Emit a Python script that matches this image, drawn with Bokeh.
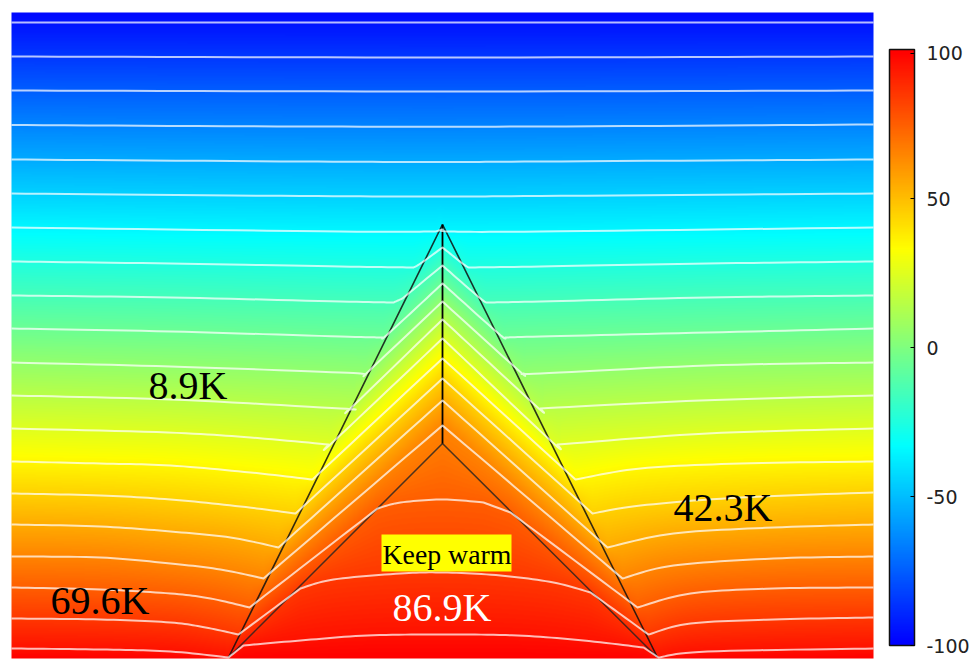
import numpy as np
from bokeh.plotting import figure
from bokeh.models import Range1d, LinearColorMapper, ColorBar, FixedTicker
from bokeh.core.properties import value
from bokeh.embed import file_html
from bokeh.resources import INLINE

# Contour traces: (x, y), one list per temperature level
c_m95 = [(11, 22), (442, 22), (873, 22)]
c_m85 = [(11, 56), (442, 57), (873, 56)]
c_m75 = [(11, 90), (442, 91), (873, 90)]
c_m65 = [(11, 124.5), (300, 126), (540, 126), (873, 124)]
c_m55 = [(11, 159), (300, 161), (442, 161.5), (540, 161), (873, 159)]
c_m45 = [(11, 193), (300, 195.5), (442, 196), (540, 195.5), (873, 193)]
c_m35 = [(11, 227), (340, 231), (435, 231), (442, 229), (450, 231), (540, 231), (873, 227)]
c_m25 = [(11, 261), (170, 263), (340, 266), (413, 267), (420, 263), (442, 247), (462, 263), (468, 267), (540, 266), (707, 263), (873, 261)]
c_m15 = [(11, 295), (170, 297), (340, 301), (393, 302), (402, 298), (442, 265), (480, 298), (487, 302), (540, 301), (707, 297), (873, 295)]
c_m05 = [(11, 328), (170, 331), (340, 336), (382, 337), (388, 333), (442, 283), (498, 333), (505, 337), (540, 336), (707, 332), (873, 328)]
c_p05 = [(11, 362), (170, 366), (340, 372), (365, 374), (370, 369), (442, 301), (517, 369), (523, 373), (540, 373), (707, 365), (873, 362)]
c_p15 = [(11, 395), (170, 399), (340, 408), (348, 409), (353, 405), (442, 319), (535, 405), (540, 408), (700, 400), (873, 395)]
c_p25 = [(11, 428), (167, 432), (250, 437), (328, 444), (333, 441), (442, 338), (550, 440), (557, 444), (707, 433), (873, 428)]
c_p35 = [(11, 461), (100, 463), (170, 465), (250, 472), (312, 479), (442, 358), (575, 479), (640, 468), (740, 463), (873, 461)]
c_p45 = [(11, 493), (100, 495), (170, 499), (240, 506), (295, 513), (442, 378), (592, 513), (640, 505), (740, 497), (873, 492)]
c_p55 = [(11, 524), (100, 526), (170, 531), (230, 537), (278, 547), (442, 400), (607, 547), (673, 533), (773, 527), (873, 524)]
c_p65 = [(11, 556), (100, 557), (170, 563), (220, 569), (263, 578), (442, 425), (622, 578), (673, 565), (773, 558), (873, 556)]
c_p75 = [(11, 587), (100, 589), (170, 593), (210, 598), (249, 607), (377, 508), (400, 502), (443, 499), (483, 502), (510, 512), (637, 607), (690, 593), (773, 588), (873, 587)]
c_p85 = [(11, 618), (100, 619), (170, 622), (205, 627), (238, 634), (300, 588), (333, 579), (400, 573), (443, 572), (500, 575), (553, 582), (590, 592), (648, 634), (690, 623), (773, 619), (873, 617)]
c_p95 = [(11, 648), (100, 649), (170, 651), (228, 657), (243, 645), (300, 640), (367, 635), (443, 634), (517, 635), (583, 640), (643, 647), (658, 657), (707, 651), (873, 648)]

levels = [-95, -85, -75, -65, -55, -45, -35, -25, -15, -5, 5, 15, 25, 35, 45, 55, 65, 75, 85, 95]
contours = [c_m95, c_m85, c_m75, c_m65, c_m55, c_m45, c_m35, c_m25, c_m15, c_m05,
            c_p05, c_p15, c_p25, c_p35, c_p45, c_p55, c_p65, c_p75, c_p85, c_p95]

colorbar_ticks = [-100, -50, 0, 50, 98.7]
colorbar_labels = {-100: "-100", -50: "-50", 0: "0", 50: "50", 98.7: "100"}
side_ticks = [-50, 0, 50]
annotations = ["8.9K", "42.3K", "69.6K", "86.9K"]

# Colour scale anchors
anchor_values = [-100, -33.3, 33.3, 100]
anchor_r = [0, 0, 255, 255]
anchor_g = [0, 255, 255, 0]
anchor_b = [255, 255, 0, 0]
tv = np.linspace(-100, 100, 256)
palette = ["#%02x%02x%02x" % (int(r), int(g), int(b)) for r, g, b in zip(
    np.interp(tv, anchor_values, anchor_r),
    np.interp(tv, anchor_values, anchor_g),
    np.interp(tv, anchor_values, anchor_b))]
mapper = LinearColorMapper(palette=palette, low=-100, high=100)


def smooth(trace):
    """Round a traced isotherm between its sharp corners (Catmull-Rom)."""
    pts = np.array(trace, dtype=float)
    d = np.diff(pts, axis=0)
    ang = np.degrees(np.arctan2(d[:, 1], d[:, 0]))
    corners = [0] + [i + 1 for i in range(len(ang) - 1) if abs(ang[i + 1] - ang[i]) > 15] + [len(pts) - 1]
    out = []
    for a, b in zip(corners[:-1], corners[1:]):
        seg = pts[a:b + 1]
        for i in range(len(seg) - 1):
            p0 = seg[i - 1] if i > 0 else seg[i]
            p1, p2 = seg[i], seg[i + 1]
            p3 = seg[i + 2] if i + 2 < len(seg) else seg[i + 1]
            for t in np.linspace(0, 1, 12, endpoint=False):
                out.append(0.5 * (2 * p1 + (p2 - p0) * t + (2 * p0 - 5 * p1 + 4 * p2 - p3) * t ** 2
                                  + (3 * p1 - p0 - 3 * p2 + p3) * t ** 3))
    out.append(pts[-1])
    return np.array(out)


curves = [smooth(c) for c in contours]

# Temperature field between the traced isotherms
X0, X1, Y0, Y1 = 11, 873, 12, 658
col_x = np.arange(X0, X1) + 0.5
row_y = np.arange(Y0, Y1) + 0.5
line_y = np.array([np.interp(col_x, c[:, 0], c[:, 1]) for c in curves])
field = np.zeros((len(row_y), len(col_x)))
for j in range(len(col_x)):
    ys = np.concatenate([[Y0 - 8], line_y[:, j], [max(line_y[-1, j] + 0.5, Y1 + 2)]])
    field[:, j] = np.interp(row_y, ys, [-100] + levels + [100])

p = figure(width=975, height=659, output_backend="svg", toolbar_location=None,
           x_range=Range1d(0, 975), y_range=Range1d(659, 0), min_border=0,
           background_fill_color="white", border_fill_color="white", outline_line_color=None)
p.axis.visible = False
p.grid.visible = False

p.image(image=[field], x=X0, y=Y0, dw=X1 - X0, dh=Y1 - Y0, color_mapper=mapper)

# Domain outlines
p.line([228, 442, 657], [657, 224, 657], line_color="#111111", line_width=1.6, line_alpha=0.85)
p.line([230, 442, 655], [655, 443, 655], line_color="#222222", line_width=1.5, line_alpha=0.8)
p.line([442, 442], [224, 443], line_color="black", line_width=1.8)

for c in curves:
    p.line(c[:, 0], c[:, 1], line_color="white", line_join="round", line_width=2, line_alpha=0.72)

# Labels
p.quad(left=[381], right=[511], top=[534], bottom=[571], fill_color="#ffff00", line_color=None)
serif = value("Liberation Serif")
p.text(x=[148, 673, 50], y=[385, 507, 600], text=annotations[:3], text_font=serif,
       text_font_size="40px", text_color="black", text_baseline="middle")
p.text(x=[392], y=[607], text=[annotations[3]], text_font=serif,
       text_font_size="40px", text_color="white", text_baseline="middle")
p.text(x=[382], y=[554], text=["Keep warm"], text_font=serif,
       text_font_size="27.8px", text_color="black", text_baseline="middle")

# Colour bar
cb = ColorBar(color_mapper=mapper, width=25, height=596, location=(889, 14), padding=0,
              ticker=FixedTicker(ticks=colorbar_ticks), major_label_overrides=colorbar_labels,
              background_fill_alpha=0,
              bar_line_color="#111111", bar_line_width=1.5,
              major_tick_line_color="black", major_tick_in=4, major_tick_out=0, major_tick_line_width=1,
              minor_tick_line_color=None, major_label_text_font="DejaVu Sans",
              major_label_text_font_size="19px", major_label_text_color="#222222",
              label_standoff=12)
p.add_layout(cb)
p.segment(x0=[889] * 3, x1=[893] * 3, y0=[347 - v * 2.98 for v in side_ticks],
          y1=[347 - v * 2.98 for v in side_ticks], line_color="black", line_width=1)

open("out.html", "w").write(file_html(p, INLINE))
